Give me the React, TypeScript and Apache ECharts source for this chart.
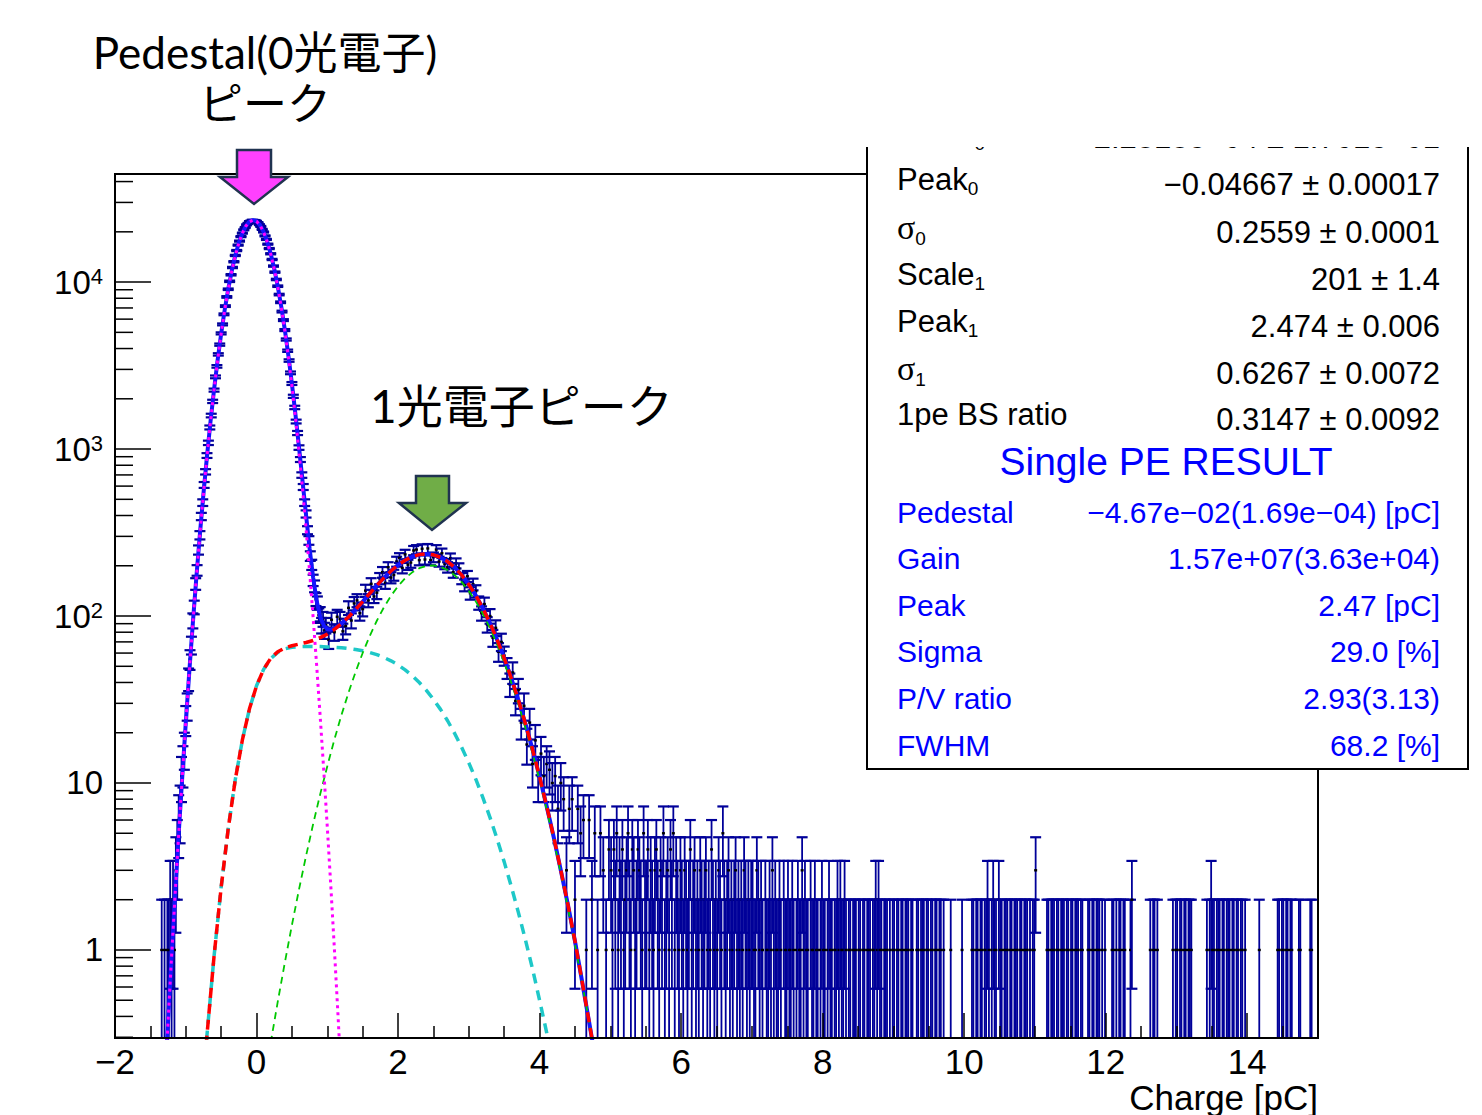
import React, { useEffect, useRef } from "react";
import * as echarts from "echarts";

const W = 1482;
const H = 1115;

// ---- axes ----
const X_MIN = -2;
const X_MAX = 15;
const X_INTERVAL = 2;
const Y_MIN = 0.297;
const Y_MAX = 44400;
const Y_MINOR_TICKS = [
  0.3, 0.4, 0.5, 0.6, 0.7, 0.8, 0.9,
  2, 3, 4, 5, 6, 7, 8, 9,
  20, 30, 40, 50, 60, 70, 80, 90,
  200, 300, 400, 500, 600, 700, 800, 900,
  2000, 3000, 4000, 5000, 6000, 7000, 8000, 9000,
  20000, 30000, 40000,
];

// ---- histogram (counts per bin) ----
const PED_BIN_LOW = -1.35;
const PED_BIN_W = 0.02;
const pedCounts = [
  1, 0, 1, 0, 1, 1, 2, 1, 2, 1,
  3, 4, 6, 7, 11, 13, 16, 24, 29, 42,
  55, 67, 94, 113, 156, 188, 249, 305, 395, 478,
  610, 731, 915, 1090, 1347, 1588, 1930, 2255, 2706, 3128,
  3690, 4221, 4930, 5580, 6410, 7180, 8150, 9060, 10110, 11060,
  12230, 13240, 14440, 15450, 16650, 17600, 18720, 19640, 20560, 21230,
  22020, 22470, 23030, 23210, 23490, 23390, 23380, 23120, 22730, 22090,
  21550, 20690, 19950, 18910, 18010, 16870, 15880, 14780, 13660, 12470,
  11470, 10370, 9450, 8420, 7570, 6660, 5920, 5160, 4530, 3880,
  3390, 2860, 2470, 2070, 1775, 1462, 1248, 1021, 866, 699,
  593, 478, 409, 327, 284, 229, 203, 164, 151, 126,
  120, 101, 103, 88, 96, 82, 88,
];

const PE_BIN_LOW = 1.0;
const PE_BIN_W = 0.04;
const peCounts = [
  72, 95, 80, 99, 96, 81, 87, 112, 94, 119,
  124, 104, 110, 142, 124, 156, 131, 138, 168, 183,
  158, 196, 170, 176, 212, 223, 194, 234, 203, 209,
  247, 250, 216, 253, 218, 254, 216, 225, 250, 212,
  238, 205, 196, 222, 183, 207, 193, 168, 153, 173,
  137, 155, 141, 120, 104, 118, 89, 100, 74, 85,
  61, 70, 58, 49, 39, 46, 31, 36, 23, 29,
  17, 23, 13, 18, 11, 15, 11, 13, 12, 10,
  11, 7, 10, 8, 3, 7, 8, 2, 7, 5,
  6, 1, 6, 2, 5, 1, 5, 3, 1, 4,
];

const TAIL_BIN_LOW = 5.0;
const TAIL_BIN_W = 0.02;
const tailCounts = [
  3, 1, 4, 2, 5, 1, 3, 2, 4, 1, 2, 3, 5, 2, 1, 4, 3, 1, 2, 4, 3, 2, 1, 5, 2,
  2, 4, 1, 3, 2, 1, 3, 4, 2, 1, 3, 2, 5, 1, 2, 3, 1, 4, 2, 5, 1, 3, 2, 1, 3,
  2, 1, 3, 2, 1, 2, 4, 1, 2, 3, 1, 2, 1, 3, 2, 1, 2, 3, 1, 2, 1, 4, 2, 1, 2,
  1, 3, 2, 1, 5, 2, 1, 2, 3, 1, 2, 1, 2, 3, 1, 2, 1, 2, 1, 3, 2, 1, 2, 1, 2,
  2, 1, 1, 3, 2, 1, 2, 1, 0, 2, 1, 1, 2, 1, 3, 1, 2, 1, 1, 2, 1, 0, 2, 1, 1,
  2, 1, 1, 2, 1, 0, 1, 2, 1, 1, 3, 1, 2, 1, 1, 0, 2, 1, 1, 2, 1, 1, 0, 1, 2,
  1, 1, 0, 1, 2, 1, 1, 0, 1, 1, 2, 1, 2, 1, 1, 2, 1, 0, 1, 1, 0, 1, 1, 1, 0,
  1, 1, 0, 1, 1, 0, 1, 1, 1, 0, 1, 1, 2, 1, 2, 1, 1, 0, 1, 1, 1, 0, 1, 0, 1,
  1, 0, 1, 1, 0, 1, 1, 0, 1, 1, 1, 0, 1, 1, 0, 0, 1, 1, 0, 1, 1, 1, 0, 1, 1,
  0, 1, 1, 0, 1, 1, 0, 1, 1, 0, 1, 0, 0, 0, 0, 1, 0, 0, 0, 0, 0, 0, 0, 1, 0,
  0, 0, 0, 0, 0, 1, 1, 0, 1, 1, 0, 1, 1, 0, 1, 1, 2, 1, 0, 1, 2, 1, 1, 0, 2,
  1, 1, 0, 1, 1, 1, 0, 1, 1, 0, 1, 1, 1, 0, 1, 1, 0, 1, 1, 1, 0, 1, 0, 1, 1,
  3, 0, 0, 0, 0, 0, 0, 0, 1, 1, 0, 1, 1, 1, 0, 1, 1, 0, 1, 1, 1, 0, 1, 1, 0,
  1, 1, 0, 1, 1, 1, 0, 1, 1, 0, 0, 0, 1, 1, 0, 1, 1, 0, 1, 1, 1, 0, 1, 0, 1,
  0, 0, 0, 0, 1, 1, 0, 1, 0, 1, 1, 0, 1, 1, 0, 0, 0, 1, 2, 0, 0, 0, 0, 0, 0,
  0, 0, 0, 0, 0, 0, 1, 0, 1, 1, 0, 1, 0, 0, 0, 0, 0, 0, 0, 0, 0, 0, 1, 0, 1,
  1, 0, 1, 1, 0, 1, 1, 0, 1, 1, 1, 0, 0, 0, 0, 0, 0, 0, 0, 0, 0, 1, 0, 1, 2,
  1, 1, 0, 1, 1, 1, 0, 1, 1, 0, 1, 1, 1, 0, 1, 1, 0, 1, 1, 0, 1, 1, 0, 1, 0,
  0, 0, 0, 0, 0, 0, 0, 0, 1, 0, 0, 0, 0, 0, 0, 0, 0, 0, 0, 0, 0, 1, 1, 0, 1,
  1, 0, 1, 1, 0, 1, 1, 0, 0, 0, 0, 1, 1, 0, 0, 0, 0, 0, 0, 1, 1, 0, 0, 0, 0,
];

// ---- fit curves (sampled) ----
const FIT_A_START = -1.3;
const FIT_A_STEP = 0.05;
const pedestalFit = [
  0.146, 0.373, 0.919, 2.17, 4.95, 10.8, 22.9, 46.5, 90.8, 171,
  310, 540, 906, 1464, 2275, 3405, 4904, 6801, 9076, 11658,
  14415, 17157, 19653, 21672, 23002, 23498, 23108, 21872, 19926, 17475,
  14751, 11983, 9372, 7055, 5111, 3565, 2392, 1546, 962, 576,
  332, 184, 98.1, 50.4, 24.9, 11.9, 5.45, 2.4, 1.02, 0.417,
  0.164,
];
const totalFitA = [
  0.146, 0.373, 0.919, 2.17, 4.95, 10.8, 22.9, 46.5, 90.8, 171,
  310, 540, 906, 1465, 2276, 3406, 4906, 6805, 9081, 11666,
  14425, 17171, 19671, 21695, 23030, 23531, 23146, 21915, 19974, 17527,
  14807, 12041, 9433, 7118, 5176, 3631, 2458, 1613, 1030, 645,
  402, 254, 170, 123, 99, 87.8, 83.4, 82.8, 84.2, 86.8,
  90.3,
];
const FIT_B_START = 1.3;
const FIT_B_STEP = 0.1;
const totalFitB = [
  98.7, 109.3, 122.0, 136.5, 152.4, 169.2, 186.0, 202.0, 215.8, 226.7,
  233.4, 235.5, 232.5, 224.6, 212.0, 195.4, 175.8, 154.5, 132.5, 110.9,
  90.5, 72.1, 56.0, 42.4, 31.4, 22.6, 15.9, 10.9, 7.26, 4.73,
  3.0, 1.87, 1.13, 0.65, 0.37, 0.21,
];
const ONE_PE_START = -0.8;
const ONE_PE_STEP = 0.1;
const onePeTotalFit = [
  0.089, 0.31, 0.92, 2.37, 5.33, 10.5, 18.1, 27.8, 38.2, 47.9,
  55.8, 61.1, 64.4, 66.4, 67.9, 69.4, 71.4, 74.2, 77.9, 83.2,
  90.1, 98.7, 109.3, 122.0, 136.5, 152.4, 169.2, 186.0, 202.0, 215.8,
  226.7, 233.4, 235.5, 232.5, 224.6, 212.0, 195.4, 175.8, 154.5, 132.5,
  110.9, 90.5, 72.1, 56.0, 42.4, 31.4, 22.6, 15.9, 10.9, 7.26,
  4.73, 3.0, 1.87, 1.13, 0.65, 0.37, 0.21,
];
const BS_START = -0.8;
const BS_STEP = 0.1;
const backscatterFit = [
  0.089, 0.31, 0.92, 2.37, 5.33, 10.5, 18.1, 27.8, 38.2, 47.9,
  55.5, 60.6, 63.6, 65.0, 65.6, 65.7, 65.7, 65.6, 65.3, 65.0,
  64.6, 63.9, 63.0, 61.9, 60.5, 58.7, 56.5, 53.9, 51.0, 47.6,
  44.0, 40.0, 35.9, 31.7, 27.6, 23.6, 19.8, 16.3, 13.2, 10.5,
  8.14, 6.2, 4.62, 3.37, 2.4, 1.68, 1.15, 0.77, 0.5, 0.32,
  0.2,
];
const G1_START = 0.2;
const G1_STEP = 0.1;
const onePeGaussFit = [
  0.278, 0.49, 0.84, 1.41, 2.3, 3.66, 5.68, 8.58, 12.6, 18.2,
  25.5, 34.8, 46.3, 60.1, 76.0, 93.7, 112.7, 132.1, 151.0, 168.2,
  182.7, 193.4, 199.6, 200.8, 197.0, 188.4, 175.6, 159.5, 141.3, 122.0,
  102.8, 84.3, 67.5, 52.6, 40.0, 29.7, 21.4, 15.1, 10.4, 6.94,
  4.53, 2.88, 1.79, 1.08, 0.64, 0.37, 0.205,
];

// ---- stats box texts ----
const STAT_LABELS = ["{m|Peak}{s|0}", "{g|σ}{s|0}", "{m|Scale}{s|1}", "{m|Peak}{s|1}", "{g|σ}{s|1}", "{m|1pe BS ratio}"];
const STAT_VALUES = ["\u22120.04667 ± 0.00017", "0.2559 ± 0.0001", "201 ± 1.4", "2.474 ± 0.006", "0.6267 ± 0.0072", "0.3147 ± 0.0092"];
const CUT_LABEL = "{m|Scale}{s|0}";
const CUT_VALUE = "2.2818e+04 ± 1.701e+01";
const RESULT_TITLE = "Single PE RESULT";
const RESULT_LABELS = ["Pedestal", "Gain", "Peak", "Sigma", "P/V ratio", "FWHM"];
const RESULT_VALUES = [
  "\u22124.67e\u221202(1.69e\u221204) [pC]",
  "1.57e+07(3.63e+04)",
  "2.47 [pC]",
  "29.0 [%]",
  "2.93(3.13)",
  "68.2 [%]",
];
const X_AXIS_NAME = "Charge [pC]";
const NOTE_PED_1 = "Pedestal(0光電子)";
const NOTE_PED_2 = "ピーク";
const NOTE_PE = "1光電子ピーク";

const FONT = "'Liberation Sans', Arial, Helvetica, sans-serif";
const SERIF = "'Liberation Serif', 'DejaVu Serif', serif";
const JP = "Lato, 'Noto Sans CJK JP', sans-serif";
const ERR_COLOR = "#000099";

const samples = (start: number, step: number, vals: number[]) =>
  vals.map((v, i) => [Number((start + i * step).toFixed(4)), v]);
const bins = (low: number, w: number, counts: number[]) =>
  counts.map((n, i) => [Number((low + (i + 0.5) * w).toFixed(4)), n]).filter((p) => p[1] > 0);

function buildOption() {
  const hist = [
    ...bins(PED_BIN_LOW, PED_BIN_W, pedCounts),
    ...bins(PE_BIN_LOW, PE_BIN_W, peCounts),
    ...bins(TAIL_BIN_LOW, TAIL_BIN_W, tailCounts),
  ];
  const totalPts = [...samples(FIT_A_START, FIT_A_STEP, totalFitA), ...samples(FIT_B_START, FIT_B_STEP, totalFitB)];

  const renderErr = (_p: any, api: any) => {
    const x = api.value(0);
    const n = api.value(1);
    const e = Math.sqrt(n);
    const hi = api.coord([x, n + e]);
    const mid = api.coord([x, n]);
    const loV = n - e;
    const lo = api.coord([x, Math.max(loV, Y_MIN)]);
    const st = { stroke: ERR_COLOR, lineWidth: 1.8 };
    const cap = { stroke: ERR_COLOR, lineWidth: 2.2 };
    const hw = 5.5;
    const children: any[] = [
      { type: "line", shape: { x1: mid[0], y1: hi[1], x2: mid[0], y2: lo[1] }, style: st },
      { type: "line", shape: { x1: mid[0] - hw, y1: hi[1], x2: mid[0] + hw, y2: hi[1] }, style: cap },
    ];
    if (loV > Y_MIN) {
      children.push({ type: "line", shape: { x1: mid[0] - hw, y1: lo[1], x2: mid[0] + hw, y2: lo[1] }, style: cap });
    }
    children.push({ type: "rect", shape: { x: mid[0] - 1.5, y: mid[1] - 1.2, width: 3, height: 2.4 }, style: { fill: "#000" } });
    return { type: "group", children };
  };

  const renderMinor = (_p: any, api: any) => {
    const p = api.coord([api.value(0), api.value(1)]);
    return { type: "line", shape: { x1: p[0], y1: p[1], x2: p[0] + 18, y2: p[1] }, style: { stroke: "#000", lineWidth: 1.5 } };
  };

  const line = (name: string, data: any[], color: string, width: number, type: any, z: number) => ({
    type: "line",
    name,
    data,
    showSymbol: false,
    symbol: "none",
    clip: true,
    silent: true,
    z,
    lineStyle: { color, width, type, cap: "butt" },
  });

  const richRoot = (size: number, color: string) => ({
    m: { fontSize: size, fontFamily: FONT, fill: color, padding: [0, 0, 3, 0] },
    g: { fontSize: size + 3, fontFamily: SERIF, fill: color, padding: [0, 0, 3, 0] },
    s: { fontSize: Math.round(size * 0.62), fontFamily: FONT, fill: color, verticalAlign: "bottom" },
  });

  const BLACK_Y = [182, 230, 277, 324, 371, 417];
  const BLUE_Y = [512, 558, 605, 651, 698, 745];

  const graphics: any[] = [
    {
      type: "rect",
      z: 100,
      shape: { x: 867, y: 100, width: 601, height: 669 },
      style: { fill: "#fff", stroke: "#000", lineWidth: 2 },
    },
    {
      type: "text",
      z: 101,
      x: 897,
      y: 136,
      style: { text: CUT_LABEL, rich: richRoot(31, "#000"), align: "left", verticalAlign: "middle" },
    },
    {
      type: "text",
      z: 101,
      x: 1440,
      y: 137,
      style: { text: CUT_VALUE, fontSize: 31, fontFamily: FONT, fill: "#000", align: "right", verticalAlign: "middle" },
    },
    { type: "rect", z: 102, shape: { x: 860, y: 0, width: 622, height: 147 }, style: { fill: "#fff" } },
  ];
  STAT_LABELS.forEach((lab, i) => {
    graphics.push({
      type: "text",
      z: 103,
      x: 897,
      y: BLACK_Y[i] - 1,
      style: { text: lab, rich: richRoot(31, "#000"), align: "left", verticalAlign: "middle" },
    });
    graphics.push({
      type: "text",
      z: 103,
      x: 1440,
      y: BLACK_Y[i] + 2,
      style: { text: STAT_VALUES[i], fontSize: 31, fontFamily: FONT, fill: "#000", align: "right", verticalAlign: "middle" },
    });
  });
  graphics.push({
    type: "text",
    z: 103,
    x: 1166,
    y: 461,
    style: { text: RESULT_TITLE, fontSize: 39, fontFamily: FONT, fill: "#0000ff", align: "center", verticalAlign: "middle" },
  });
  RESULT_LABELS.forEach((lab, i) => {
    graphics.push({
      type: "text",
      z: 103,
      x: 897,
      y: BLUE_Y[i],
      style: { text: lab, fontSize: 30, fontFamily: FONT, fill: "#0000ff", align: "left", verticalAlign: "middle" },
    });
    graphics.push({
      type: "text",
      z: 103,
      x: 1440,
      y: BLUE_Y[i],
      style: { text: RESULT_VALUES[i], fontSize: 30, fontFamily: FONT, fill: "#0000ff", align: "right", verticalAlign: "middle" },
    });
  });
  graphics.push(
    {
      type: "text",
      z: 103,
      x: 1318,
      y: 1097,
      style: { text: X_AXIS_NAME, fontSize: 35, fontFamily: FONT, fill: "#000", align: "right", verticalAlign: "middle" },
    },
    {
      type: "text",
      z: 103,
      x: 265,
      y: 52,
      style: { text: NOTE_PED_1, fontSize: 44, fontFamily: JP, fill: "#000", align: "center", verticalAlign: "middle" },
    },
    {
      type: "text",
      z: 103,
      x: 265,
      y: 103,
      style: { text: NOTE_PED_2, fontSize: 44, fontFamily: JP, fill: "#000", align: "center", verticalAlign: "middle" },
    },
    {
      type: "text",
      z: 103,
      x: 370,
      y: 405,
      style: { text: NOTE_PE, fontSize: 46, fontFamily: JP, fill: "#000", align: "left", verticalAlign: "middle" },
    },
    {
      type: "polygon",
      z: 110,
      shape: { points: [[237, 150], [271, 150], [271, 177], [288, 177], [254, 204], [220, 177], [237, 177]] },
      style: { fill: "#ff40ff", stroke: "#203350", lineWidth: 2.5, lineJoin: "miter" },
    },
    {
      type: "polygon",
      z: 110,
      shape: { points: [[416, 476], [449, 476], [449, 503], [466, 503], [432, 530], [399, 503], [416, 503]] },
      style: { fill: "#70ad47", stroke: "#203350", lineWidth: 2.5, lineJoin: "miter" },
    }
  );

  return {
    animation: false,
    backgroundColor: "#fff",
    grid: { left: 115, right: W - 1318, top: 174, bottom: H - 1038, show: true, borderColor: "#000", borderWidth: 2, backgroundColor: "transparent" },
    xAxis: {
      type: "value",
      min: X_MIN,
      max: X_MAX,
      interval: X_INTERVAL,
      z: 10,
      axisLine: { show: true, onZero: false, lineStyle: { color: "#000", width: 2 } },
      axisTick: { show: true, inside: true, length: 25, lineStyle: { color: "#000", width: 1.5 } },
      minorTick: { show: true, splitNumber: 4, length: 12, lineStyle: { color: "#000", width: 1.5 } },
      splitLine: { show: false },
      minorSplitLine: { show: false },
      axisLabel: {
        color: "#000",
        fontSize: 35,
        fontFamily: FONT,
        margin: 6,
        showMaxLabel: false,
        formatter: (v: number) => {
          if (Math.abs(v % X_INTERVAL) > 1e-9) return "";
          return v < 0 ? "\u2212" + Math.abs(v) : String(v);
        },
      },
    },
    yAxis: {
      type: "log",
      logBase: 10,
      min: Y_MIN,
      max: Y_MAX,
      z: 10,
      axisLine: { show: true, onZero: false, lineStyle: { color: "#000", width: 2 } },
      axisTick: { show: true, inside: true, length: 36, lineStyle: { color: "#000", width: 1.5 } },
      splitLine: { show: false },
      axisLabel: {
        color: "#000",
        fontSize: 33,
        fontFamily: FONT,
        margin: 12,
        showMinLabel: false,
        showMaxLabel: false,
        formatter: (v: number) => {
          const p = Math.log10(v);
          const r = Math.round(p);
          if (Math.abs(p - r) > 1e-6) return "";
          if (r === 0) return "1";
          if (r === 1) return "10";
          return "{b|10}{s|" + r + "}";
        },
        rich: {
          b: { fontSize: 33, fontFamily: FONT, color: "#000" },
          s: { fontSize: 22, fontFamily: FONT, color: "#000", verticalAlign: "top" },
        },
      },
    },
    series: [
      {
        type: "custom",
        name: "data",
        coordinateSystem: "cartesian2d",
        renderItem: renderErr,
        data: hist,
        encode: { x: 0, y: 1 },
        clip: true,
        silent: true,
        z: 2,
      },
      line("total", totalPts, "#1414ff", 4, "solid", 3),
      line("backscatter", samples(BS_START, BS_STEP, backscatterFit), "#1ec8c8", 3.5, [10, 7], 4),
      line("gauss1", samples(G1_START, G1_STEP, onePeGaussFit), "#00c800", 1.8, [7, 5], 4),
      line("onePeTotal", samples(ONE_PE_START, ONE_PE_STEP, onePeTotalFit), "#ff0000", 3.5, [10, 6], 5),
      line("pedestal", samples(FIT_A_START, FIT_A_STEP, pedestalFit), "#ff00ff", 3, [3, 4], 6),
      {
        type: "custom",
        name: "yMinorTicks",
        coordinateSystem: "cartesian2d",
        renderItem: renderMinor,
        data: Y_MINOR_TICKS.map((v) => [X_MIN, v]),
        encode: { x: 0, y: 1 },
        clip: false,
        silent: true,
        z: 10,
      },
    ],
    graphic: { elements: graphics },
  };
}

export default function App() {
  const ref = useRef<HTMLDivElement>(null);
  useEffect(() => {
    document.body.style.margin = "0";
    const chart = echarts.init(ref.current as HTMLDivElement, null, { renderer: "svg", width: W, height: H });
    chart.setOption(buildOption() as any);
    return () => chart.dispose();
  }, []);
  return <div ref={ref} style={{ width: W, height: H, background: "#fff" }} />;
}
